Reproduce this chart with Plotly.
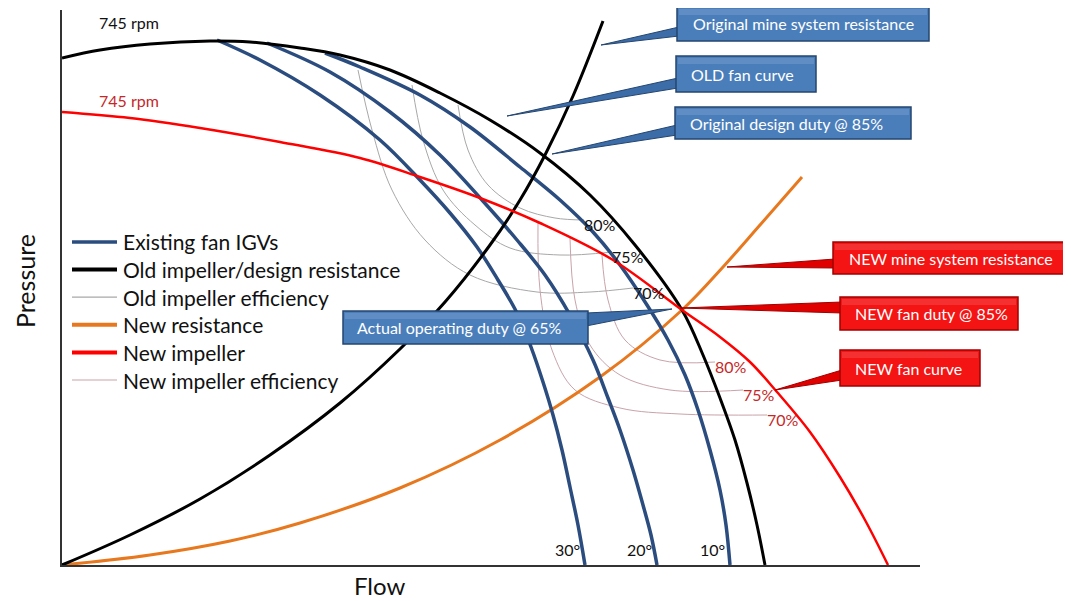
import plotly.graph_objects as go

# ---------------- data (flow / pressure in chart units) -------------
old_fan_flow = [0, 38, 88, 148, 188, 238, 278, 328, 378, 428, 478, 528, 573, 620, 641, 658, 673, 685, 695, 703]
old_fan_pres = [507, 515, 521, 524, 523, 517, 510, 495, 472, 445, 412, 370, 320, 255, 210, 167, 125, 82, 40, 0]

old_res_flow = [0, 68, 138, 208, 278, 338, 383, 428, 458, 483, 511, 541]
old_res_pres = [0, 30, 66, 110, 162, 216, 263, 320, 365, 410, 469, 544]

new_res_flow = [0, 88, 168, 238, 338, 438, 538, 620, 661, 698, 740]
new_res_pres = [0, 10, 24, 42, 77, 125, 188, 255, 298, 340, 388]

new_fan_flow = [0, 68, 138, 218, 298, 358, 418, 478, 551, 620, 658, 688, 715, 748, 778, 803, 826]
new_fan_pres = [453, 447, 437, 423, 407, 388, 367, 342, 305, 255, 228, 203, 173, 133, 88, 45, 0]

igv_labels = ["30°", "20°", "10°"]
igv_flow = [
    [155, 198, 258, 318, 358, 388, 415, 436, 455, 469, 481, 491, 500, 508, 516, 523],
    [205, 268, 328, 378, 420, 455, 483, 508, 531, 546, 558, 571, 581, 589, 595],
    [263, 298, 358, 408, 458, 498, 531, 558, 585, 606, 623, 636, 648, 658, 664, 668],
]
igv_pres = [
    [525, 505, 470, 425, 385, 352, 318, 285, 252, 218, 183, 150, 115, 78, 40, 0],
    [522, 493, 453, 410, 365, 325, 290, 250, 205, 167, 135, 95, 60, 30, 0],
    [512, 498, 470, 438, 398, 365, 333, 300, 260, 225, 190, 155, 115, 75, 40, 0],
]

eff_labels = ["70%", "75%", "80%"]
old_eff_flow = [
    [296, 310, 330, 363, 408, 475, 528, 571],
    [350, 361, 381, 413, 448, 498, 550],
    [396, 406, 426, 458, 493, 522],
]
old_eff_pres = [
    [495, 435, 375, 325, 290, 273, 273, 277],
    [480, 425, 375, 340, 317, 310, 313],
    [460, 415, 380, 357, 347, 345],
]
new_eff_flow = [
    [476, 478, 490, 513, 558, 618, 705],
    [508, 513, 528, 558, 608, 681],
    [540, 546, 563, 598, 653],
]
new_eff_pres = [
    [343, 275, 215, 175, 157, 151, 150],
    [327, 265, 220, 190, 175, 175],
    [310, 265, 225, 205, 203],
]

legend_names = ["Existing fan IGVs", "Old impeller/design resistance", "Old impeller efficiency",
                "New resistance", "New impeller", "New impeller efficiency"]

blue_callouts = ["Original mine system resistance", "OLD fan curve", "Original design duty @ 85%",
                 "Actual operating duty @ 65%"]
red_callouts = ["NEW mine system resistance", "NEW fan duty @ 85%", "NEW fan curve"]

# ---------------- styling ----------------
FONT = "Lato"
C_BLUE = "#2B4C7E"
C_BLACK = "#000000"
C_GRAY = "#A8A8A8"
C_ORANGE = "#E8781E"
C_RED = "#FF0000"
C_PINK = "#C9A3AA"
C_DRED = "#C62828"

# page is shown with an 8px body margin -> size the figure to fit the window
OFF = 8
W, H = 1071 - OFF, 601 - OFF
PX_L, PX_R, PX_T, PX_B = 62, 920, 10, 565          # plot area in page pixels
L, T = PX_L - OFF, PX_T - OFF
R, B = W - (PX_R - OFF), H - (PX_B - OFF)
PW, PH = PX_R - PX_L, PX_B - PX_T


def P(px, py):
    """page pixel position -> paper coords (for decorations)"""
    return (px - PX_L) / PW, (PX_B - py) / PH


fig = go.Figure()


def line(x, y, color, width):
    fig.add_trace(go.Scatter(x=x, y=y, mode="lines",
                             line=dict(color=color, width=width, shape="spline", smoothing=1.0),
                             hoverinfo="skip", showlegend=False))


for fx, fy in zip(old_eff_flow, old_eff_pres):
    line(fx, fy, C_GRAY, 1)
for fx, fy in zip(new_eff_flow, new_eff_pres):
    line(fx, fy, C_PINK, 1)
line(new_res_flow, new_res_pres, C_ORANGE, 3)
for fx, fy in zip(igv_flow, igv_pres):
    line(fx, fy, C_BLUE, 3.5)
line(old_res_flow, old_res_pres, C_BLACK, 3)
line(old_fan_flow, old_fan_pres, C_BLACK, 3)
line(new_fan_flow, new_fan_pres, C_RED, 2.5)

ann = []
shapes = []


def txt(x, y, text, size, color, xanchor="center", ref="data", **kw):
    d = dict(x=x, y=y, text=text, showarrow=False, xanchor=xanchor, yanchor="middle",
             font=dict(family=FONT, size=size, color=color))
    if ref == "paper":
        d.update(xref="paper", yref="paper")
    d.update(kw)
    ann.append(d)


# rpm labels
txt(old_fan_flow[0] + 67, old_fan_pres[0] + 36, "745 rpm", 16, "#111")
txt(new_fan_flow[0] + 67, new_fan_pres[0] + 12, "745 rpm", 16, C_DRED)

# IGV angle labels at curve foot
for lab, fx in zip(igv_labels, igv_flow):
    txt(fx[-1], 16, lab, 16, "#111", xanchor="right", xshift=-3)

# efficiency labels
for lab, fx, fy in zip(eff_labels, old_eff_flow, old_eff_pres):
    txt(fx[-1], fy[-1], lab, 16, "#111", xanchor="left", xshift=-2, yshift=-4)
for lab, fx, fy in zip(eff_labels, new_eff_flow, new_eff_pres):
    txt(fx[-1], fy[-1], lab, 16, C_DRED, xanchor="left", xshift=-2, yshift=-4)

# axis titles
px_, py_ = P(25, 281)
txt(px_, py_, "Pressure", 25, "#111", ref="paper", textangle=-90)
px_, py_ = P(379, 585)
txt(px_, py_, "Flow", 24, "#111", ref="paper")

# manual legend
leg_styles = [(C_BLUE, 3.5), (C_BLACK, 4), (C_GRAY, 1.2), (C_ORANGE, 4), (C_RED, 4), (C_PINK, 1.2)]
for i, (name, (col, wd)) in enumerate(zip(legend_names, leg_styles)):
    yy = 242 + i * 27.6
    x0, y0 = P(72, yy)
    x1, _ = P(117, yy)
    shapes.append(dict(type="line", xref="paper", yref="paper", x0=x0, x1=x1, y0=y0, y1=y0,
                       line=dict(color=col, width=wd)))
    tx, ty = P(121, yy)
    txt(tx, ty, name, 21, "#111", xanchor="left", ref="paper")


def callout(text, box, tip, base, fill, edge, text_x, wedge_fill):
    x0, y0 = P(box[0], box[3])
    x1, y1 = P(box[2], box[1])
    tx, ty = P(*tip)
    bx1, by1 = P(*base[0])
    bx2, by2 = P(*base[1])
    shapes.append(dict(type="path", xref="paper", yref="paper",
                       path=f"M{tx},{ty} L{bx1},{by1} L{bx2},{by2} Z",
                       fillcolor=wedge_fill, line=dict(color=edge, width=1)))
    shapes.append(dict(type="rect", xref="paper", yref="paper", x0=x0, x1=x1, y0=y0, y1=y1,
                       fillcolor=fill, line=dict(color=edge, width=1.5)))
    hx0, hy0 = P(box[0] + 2, box[1] + 8)
    hx1, hy1 = P(box[2] - 2, box[1] + 2)
    shapes.append(dict(type="rect", xref="paper", yref="paper", x0=hx0, x1=hx1, y0=hy0, y1=hy1,
                       fillcolor="rgba(255,255,255,0.12)", line=dict(width=0)))
    px_, py_ = P(text_x, (box[1] + box[3]) / 2)
    txt(px_, py_, text, 16, "white", xanchor="left", ref="paper")


BF, BE, BW = "#4A7EBB", "#25466F", "#3D6DA8"
RF, RE, RW = "#F41414", "#A00000", "#E00000"

blue_geo = [
    ((677, 7, 929, 41), (601, 45), ((679, 27), (679, 36)), 691),
    ((676, 56, 816, 92), (507, 116), ((678, 78), (678, 88)), 689),
    ((675, 107, 911, 139), (552, 154), ((677, 125), (677, 135)), 688),
    ((343, 311, 588, 344), (672, 309), ((586, 313), (586, 326)), 355),
]
red_geo = [
    ((833, 242, 1066, 274), (727, 267), ((835, 259), (835, 268)), 847),
    ((840, 297, 1018, 330), (680, 308), ((842, 302), (842, 313)), 853),
    ((840, 350, 980, 386), (775, 390), ((842, 370), (842, 380)), 853),
]
for text, (box, tip, base, tx) in zip(blue_callouts, blue_geo):
    callout(text, box, tip, base, BF, BE, tx, BW)
for text, (box, tip, base, tx) in zip(red_callouts, red_geo):
    callout(text, box, tip, base, RF, RE, tx, RW)

fig.update_layout(
    width=W, height=H,
    margin=dict(l=L, r=R, t=T, b=B, pad=0),
    paper_bgcolor="white", plot_bgcolor="white",
    showlegend=False,
    xaxis=dict(range=[0, PW], showgrid=False, zeroline=False, showticklabels=False, ticks="",
               showline=True, linecolor="#333", linewidth=1.5, fixedrange=True),
    yaxis=dict(range=[0, PH], showgrid=False, zeroline=False, showticklabels=False, ticks="",
               showline=True, linecolor="#333", linewidth=1.5, fixedrange=True),
    annotations=ann,
    shapes=shapes,
)

fig.write_html("out.html")
